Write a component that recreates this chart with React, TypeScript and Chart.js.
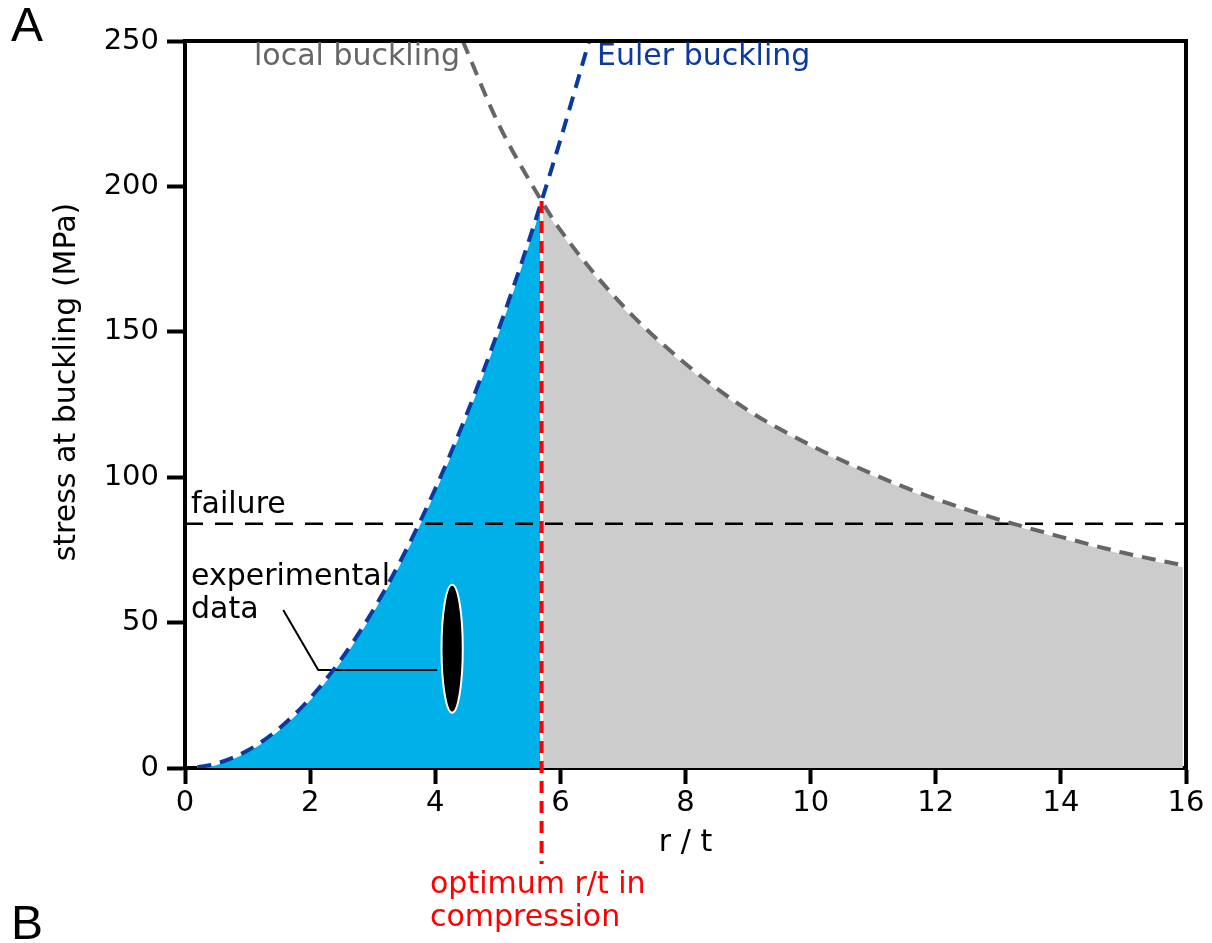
import React, { useEffect, useRef } from "react";
import { Chart, registerables } from "chart.js";

Chart.register(...registerables);

const FONT = "'DejaVu Sans', Verdana, sans-serif";

// Axis ticks
const xTickStep = 2;
const xMin = 0;
const xMax = 16;
const yTickStep = 50;
const yMin = 0;
const yMax = 250;

// Euler buckling curve (r/t, MPa)
const eulerX = [0.2, 0.5, 1, 1.5, 2, 2.5, 3, 3.5, 4, 4.5, 5, 5.5, 5.7, 6, 6.5];
const eulerY = [0.25, 1.5, 6, 13.5, 24, 37.5, 54, 73.5, 96, 121.5, 150, 181.5, 195, 216, 253];

// Local buckling curve (r/t, MPa)
const localX = [4.44, 5, 5.7, 6, 7, 8, 9, 10, 11, 12, 13, 14, 15, 16];
const localY = [250, 222, 195, 185, 159, 139, 123, 111, 101, 92.5, 85.5, 79.5, 74, 69.5];

// Filled regions
const blueFillX = [0.2, 0.5, 1, 1.5, 2, 2.5, 3, 3.5, 4, 4.5, 5, 5.5, 5.7];
const blueFillY = [0.25, 1.5, 6, 13.5, 24, 37.5, 54, 73.5, 96, 121.5, 150, 181.5, 195];
const greyFillX = [5.7, 6, 7, 8, 9, 10, 11, 12, 13, 14, 15, 15.95];
const greyFillY = [195, 185, 159, 139, 123, 111, 101, 92.5, 85.5, 79.5, 74, 69.5];

// Failure stress
const failureX = [0, 16];
const failureY = [84, 84];

// Optimum r/t marker line
const optimumX = [5.7, 5.7];
const optimumY = [195, -33];

// Experimental data leader + ellipse
const leaderX = [1.57, 2.13, 4.03];
const leaderY = [54.3, 33.7, 33.7];
const expCenterX = 4.27;
const expCenterY = 41;
const expHalfX = 0.17;
const expHalfY = 22;

const zip = (xs: number[], ys: number[]) => xs.map((x, i) => ({ x, y: ys[i] }));

export default function App() {
  const ref = useRef<HTMLCanvasElement | null>(null);

  useEffect(() => {
    if (!ref.current) return;

    const overlay = {
      id: "overlay",
      afterDatasetsDraw(chart: any) {
        const { ctx, scales } = chart;
        const xs = scales.x;
        const ys = scales.y;
        const cx = xs.getPixelForValue(expCenterX);
        const cy = ys.getPixelForValue(expCenterY);
        const rx = Math.abs(xs.getPixelForValue(expCenterX + expHalfX) - cx);
        const ry = Math.abs(ys.getPixelForValue(expCenterY + expHalfY) - cy);
        ctx.save();
        ctx.beginPath();
        ctx.ellipse(cx, cy, rx, ry, 0, 0, Math.PI * 2);
        ctx.fillStyle = "#000";
        ctx.fill();
        ctx.lineWidth = 2;
        ctx.strokeStyle = "#fff";
        ctx.stroke();
        ctx.restore();
      },
      afterDraw(chart: any) {
        const { ctx, chartArea } = chart;
        ctx.save();
        // top + right spines
        ctx.strokeStyle = "#000";
        ctx.lineWidth = 4;
        ctx.beginPath();
        ctx.moveTo(chartArea.left - 2, chartArea.top);
        ctx.lineTo(chartArea.right, chartArea.top);
        ctx.lineTo(chartArea.right, chartArea.bottom + 2);
        ctx.stroke();

        ctx.textBaseline = "middle";
        ctx.textAlign = "left";
        ctx.font = `30px ${FONT}`;
        ctx.fillStyle = "#666666";
        ctx.fillText("local buckling", 254, 57);
        ctx.fillStyle = "#0a3aa0";
        ctx.fillText("Euler buckling", 597, 57);
        ctx.fillStyle = "#000";
        ctx.fillText("failure", 191, 505);
        ctx.fillText("experimental", 191, 577);
        ctx.fillText("data", 191, 610);
        ctx.fillStyle = "#ff0000";
        ctx.fillText("optimum r/t in", 430, 885);
        ctx.fillText("compression", 430, 918);

        // y axis title
        ctx.fillStyle = "#000";
        ctx.save();
        ctx.translate(67, 382);
        ctx.rotate(-Math.PI / 2);
        ctx.textAlign = "center";
        ctx.fillText("stress at buckling (MPa)", 0, 0);
        ctx.restore();

        // panel letters
        ctx.font = `48px 'Liberation Sans', Arial, sans-serif`;
        ctx.fillText("A", 11, 28);
        ctx.fillText("B", 11, 926);
        ctx.restore();
      },
    };

    const chart = new Chart(ref.current, {
      type: "line",
      data: {
        datasets: [
          {
            label: "optimum",
            data: zip(optimumX, optimumY),
            borderColor: "#ff0000",
            borderWidth: 4,
            borderDash: [12, 8],
            pointRadius: 0,
            fill: false,
            clip: false,
            order: 0,
          } as any,
          {
            label: "Euler buckling",
            data: zip(eulerX, eulerY),
            borderColor: "#0a3aa0",
            borderWidth: 4,
            borderDash: [14, 9],
            pointRadius: 0,
            fill: false,
            cubicInterpolationMode: "monotone",
            order: 1,
          },
          {
            label: "local buckling",
            data: zip(localX, localY),
            borderColor: "#666666",
            borderWidth: 4,
            borderDash: [14, 9],
            pointRadius: 0,
            fill: false,
            cubicInterpolationMode: "monotone",
            order: 1,
          },
          {
            label: "leader",
            data: zip(leaderX, leaderY),
            borderColor: "#000",
            borderWidth: 2,
            pointRadius: 0,
            fill: false,
            order: 2,
          },
          {
            label: "failure",
            data: zip(failureX, failureY),
            borderColor: "#000",
            borderWidth: 2.5,
            borderDash: [18, 12],
            pointRadius: 0,
            fill: false,
            order: 3,
          },
          {
            label: "divider",
            data: zip(optimumX, [195, 0]),
            borderColor: "#ffffff",
            borderWidth: 3,
            pointRadius: 0,
            fill: false,
            order: 8,
          },
          {
            label: "blue region",
            data: zip(blueFillX, blueFillY),
            borderColor: "#ffffff",
            borderWidth: 3,
            backgroundColor: "#00b0e8",
            pointRadius: 0,
            fill: "origin",
            cubicInterpolationMode: "monotone",
            order: 10,
          },
          {
            label: "grey region",
            data: zip(greyFillX, greyFillY),
            borderColor: "#ffffff",
            borderWidth: 3,
            backgroundColor: "#cccccc",
            pointRadius: 0,
            fill: "origin",
            cubicInterpolationMode: "monotone",
            order: 10,
          },
        ],
      },
      options: {
        animation: false,
        responsive: false,
        events: [],
        layout: { padding: { top: 41, right: 26, left: 0, bottom: 0 } },
        plugins: {
          legend: { display: false },
          tooltip: { enabled: false },
          title: { display: false },
        },
        scales: {
          x: {
            type: "linear",
            min: xMin,
            max: xMax,
            ticks: {
              stepSize: xTickStep,
              color: "#000",
              font: { family: FONT, size: 29 },
              padding: 2,
              maxRotation: 0,
            },
            grid: {
              drawOnChartArea: false,
              drawTicks: true,
              tickLength: 16,
              tickWidth: 4,
              tickColor: "#000",
            },
            border: { display: true, color: "#000", width: 4 },
            title: {
              display: true,
              text: "r / t",
              color: "#000",
              font: { family: FONT, size: 30 },
              padding: { top: 0, bottom: 82 },
            },
            afterFit: (scale: any) => {
              scale.height = 175;
            },
          },
          y: {
            type: "linear",
            min: yMin,
            max: yMax,
            ticks: {
              stepSize: yTickStep,
              color: "#000",
              font: { family: FONT, size: 29 },
              padding: 8,
            },
            grid: {
              drawOnChartArea: false,
              drawTicks: true,
              tickLength: 18,
              tickWidth: 4,
              tickColor: "#000",
            },
            border: { display: true, color: "#000", width: 4 },
            afterFit: (scale: any) => {
              scale.width = 185;
            },
          },
        },
      },
      plugins: [overlay],
    });

    return () => chart.destroy();
  }, []);

  return (
    <div style={{ position: "absolute", left: 0, top: 0, width: 1212, height: 943, background: "#fff" }}>
      <canvas ref={ref} width={1212} height={943} style={{ width: 1212, height: 943, display: "block" }} />
    </div>
  );
}
